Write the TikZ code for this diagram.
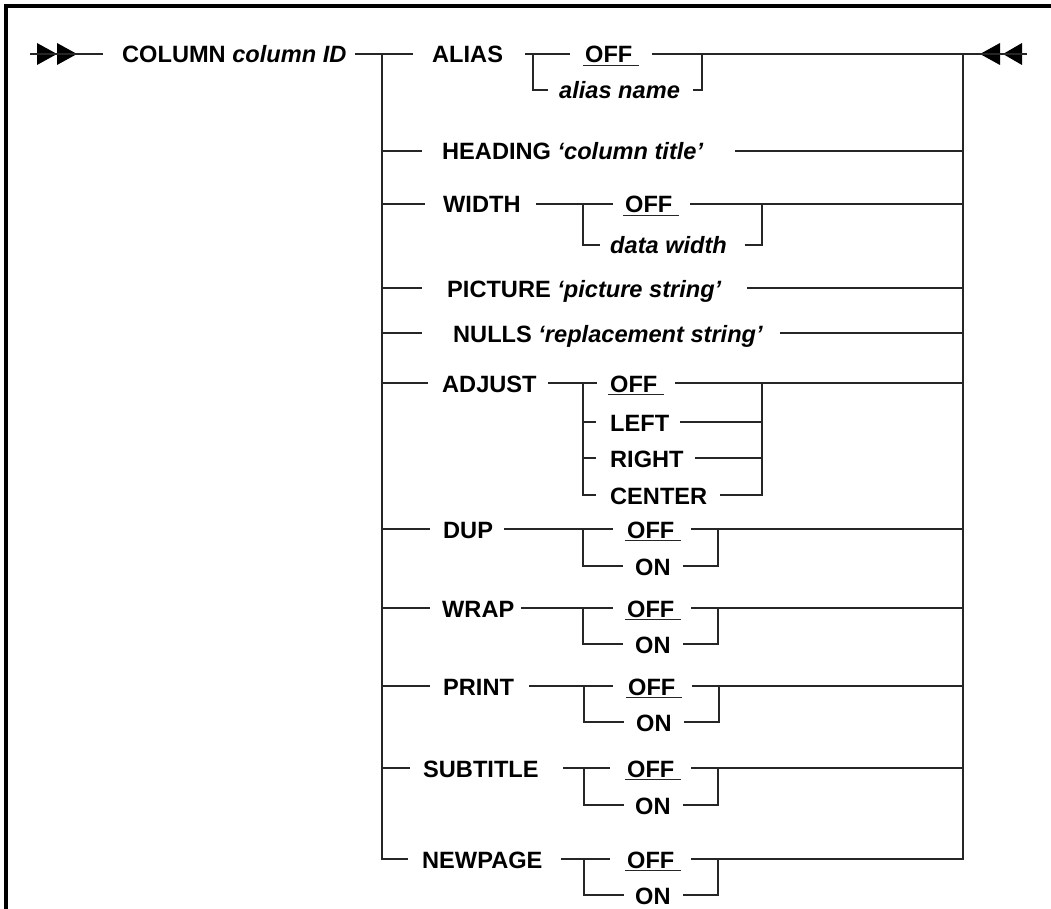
\documentclass[tikz,border=0pt]{standalone}
\usepackage{fontspec}
\setmainfont{Liberation Sans}
\usetikzlibrary{calc}
\tikzset{
  rail/.style={line width=1.6pt, black!85},
  frame/.style={line width=3.5pt, black},
  kw/.style={font=\fontsize{23.6}{26}\selectfont\bfseries, inner sep=0pt, anchor=base west},
  var/.style={font=\fontsize{23.6}{26}\selectfont\bfseries\itshape, inner sep=0pt, anchor=base west},
  tip/.style={fill=black},
}
% underline for a default value
\newcommand\defaultbar[1]{\draw[rail] ($(#1.base west)+(-2,2.5)$) -- ($(#1.base east)+(6,2.5)$);}
\begin{document}
\begin{tikzpicture}[x=1pt,y=-1pt]
\useasboundingbox (0,0) rectangle (1051,909);

% frame (top and left edges)
\draw[frame] (1051,6) -- (6,6) -- (6,909);

% ---------- entry and exit ----------
\coordinate (start) at (30,54);
\coordinate (stop) at (1027,54);
\coordinate (lbtop) at (382,54);
\coordinate (rbtop) at (963,54);
\fill[tip] (37,43) -- (57,54) -- (37,65) -- cycle;
\fill[tip] (57,43) -- (77,54) -- (57,65) -- cycle;
\fill[tip] (980,54) -- (1000,43) -- (1000,65) -- cycle;
\fill[tip] (1003,54) -- (1022,43) -- (1022,65) -- cycle;

\node[kw] (colid) at (122,63) {COLUMN \textit{column ID}};
\draw[rail] (start) -- (103,54);
\draw[rail] (355,54) -- (413,54);

% ---------- buses ----------
\draw[rail] (lbtop) -- (382,859) -- (408,859);
\draw[rail] (691,859) -- (963,859) -- (rbtop);

% ---------- ALIAS ----------
\node[kw] (alias) at (432,63) {ALIAS};
\node[kw] (aliasoff) at (585,63) {OFF};
\node[var] (aliasname) at (559,99) {alias name};
\defaultbar{aliasoff}
\draw[rail] (525,54) -- (570,54);
\draw[rail] (533,54) |- (548,90);
\draw[rail] (652,54) -- (stop);
\draw[rail] (693,90) -| (702,54);

% ---------- HEADING ----------
\node[kw] (heading) at (442,160) {HEADING \textit{‘column title’}};
\draw[rail] (382,151) -- (422,151);
\draw[rail] (735,151) -- (963,151);

% ---------- WIDTH ----------
\node[kw] (width) at (443,213) {WIDTH};
\node[kw] (widthoff) at (625,213) {OFF};
\node[var] (datawidth) at (610,254) {data width};
\defaultbar{widthoff}
\draw[rail] (382,204) -- (425,204);
\draw[rail] (536,204) -- (613,204);
\draw[rail] (583,204) |- (600,245);
\draw[rail] (690,204) -- (963,204);
\draw[rail] (745,245) -| (762,204);

% ---------- PICTURE ----------
\node[kw] (picture) at (447,297) {PICTURE \textit{‘picture string’}};
\draw[rail] (382,288) -- (422,288);
\draw[rail] (747,288) -- (963,288);

% ---------- NULLS ----------
\node[kw] (nulls) at (453,342) {NULLS \textit{‘replacement string’}};
\draw[rail] (382,333) -- (422,333);
\draw[rail] (780,333) -- (963,333);

% ---------- ADJUST ----------
\node[kw] (adjust) at (442,392) {ADJUST};
\node[kw] (adjoff) at (610,392) {OFF};
\node[kw] (adjleft) at (610,431) {LEFT};
\node[kw] (adjright) at (610,467) {RIGHT};
\node[kw] (adjcenter) at (610,504) {CENTER};
\defaultbar{adjoff}
\draw[rail] (382,383) -- (428,383);
\draw[rail] (548,383) -- (597,383);
\draw[rail] (583,383) -- (583,495) -- (596,495);
\draw[rail] (583,422) -- (596,422);
\draw[rail] (583,458) -- (596,458);
\draw[rail] (675,383) -- (963,383);
\draw[rail] (680,422) -- (762,422);
\draw[rail] (695,458) -- (762,458);
\draw[rail] (720,495) -| (762,383);

% ---------- DUP ----------
\node[kw] (dup) at (443,538) {DUP};
\node[kw] (dupoff) at (627,538) {OFF};
\node[kw] (dupon) at (635,575) {ON};
\defaultbar{dupoff}
\draw[rail] (382,529) -- (430,529);
\draw[rail] (504,529) -- (613,529);
\draw[rail] (583,529) |- (623,566);
\draw[rail] (691,529) -- (963,529);
\draw[rail] (683,566) -| (718,529);

% ---------- WRAP ----------
\node[kw] (wrap) at (442,617) {WRAP};
\node[kw] (wrapoff) at (627,617) {OFF};
\node[kw] (wrapon) at (635,653) {ON};
\defaultbar{wrapoff}
\draw[rail] (382,608) -- (430,608);
\draw[rail] (521,608) -- (613,608);
\draw[rail] (583,608) |- (623,644);
\draw[rail] (691,608) -- (963,608);
\draw[rail] (683,644) -| (718,608);

% ---------- PRINT ----------
\node[kw] (print) at (443,695) {PRINT};
\node[kw] (printoff) at (628,695) {OFF};
\node[kw] (printon) at (636,731) {ON};
\defaultbar{printoff}
\draw[rail] (382,686) -- (430,686);
\draw[rail] (529,686) -- (613,686);
\draw[rail] (584,686) |- (624,722);
\draw[rail] (692,686) -- (963,686);
\draw[rail] (684,722) -| (719,686);

% ---------- SUBTITLE ----------
\node[kw] (subtitle) at (423,777) {SUBTITLE};
\node[kw] (suboff) at (627,777) {OFF};
\node[kw] (subon) at (635,814) {ON};
\defaultbar{suboff}
\draw[rail] (382,768) -- (410,768);
\draw[rail] (563,768) -- (610,768);
\draw[rail] (584,768) |- (624,805);
\draw[rail] (691,768) -- (963,768);
\draw[rail] (683,805) -| (718,768);

% ---------- NEWPAGE ----------
\node[kw] (newpage) at (422,868) {NEWPAGE};
\node[kw] (npoff) at (627,868) {OFF};
\node[kw] (npon) at (635,904) {ON};
\defaultbar{npoff}
\draw[rail] (561,859) -- (610,859);
\draw[rail] (584,859) |- (624,895);
\draw[rail] (683,895) -| (718,859);
\end{tikzpicture}
\end{document}
